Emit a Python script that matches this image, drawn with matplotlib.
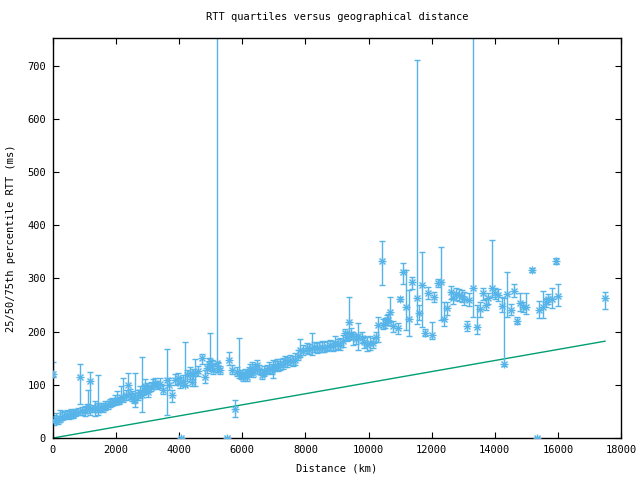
import numpy as np
import matplotlib
matplotlib.use("Agg")
import matplotlib.pyplot as plt

# distance (km), median / 25th / 75th percentile RTT (ms)
dist = [0, 30, 80, 150, 220, 290, 360, 430, 500, 570, 640, 710, 780, 846, 920,
        1014, 1080, 1120, 1183, 1250, 1331, 1390, 1436, 1510, 1585, 1650, 1743,
        1800, 1860, 1950, 2018, 2100, 2160, 2229, 2300, 2387, 2440, 2493, 2560,
        2599, 2680, 2760, 2810, 2870, 2916, 2970, 3021, 3100, 3160, 3233, 3300,
        3380, 3476, 3603, 3680, 3760, 3866, 3950, 4025, 4050, 4120, 4183, 4260,
        4341, 4395, 4450, 4500, 4600, 4712, 4817, 4870, 4930, 4975, 5030, 5081,
        5187, 5240, 5293, 5520, 5588, 5662, 5768, 5840, 5905, 5970, 6031, 6090,
        6138, 6200, 6243, 6300, 6348, 6400, 6455, 6530, 6614, 6700, 6772, 6850,
        6931, 6982, 7036, 7100, 7141, 7194, 7280, 7352, 7430, 7511, 7590, 7669,
        7750, 7828, 7933, 8039, 8120, 8198, 8280, 8357, 8440, 8515, 8600, 8674,
        8778, 8860, 8937, 9020, 9095, 9180, 9254, 9320, 9380, 9450, 9517, 9600,
        9675, 9782, 9860, 9940, 10046, 10151, 10230, 10309, 10415, 10468, 10521,
        10574, 10626, 10680, 10785, 10923, 10996, 11102, 11187, 11292, 11367,
        11525, 11608, 11683, 11789, 11894, 11999, 12073, 12210, 12285, 12391,
        12477, 12613, 12686, 12780, 12876, 12952, 13030, 13111, 13195, 13302,
        13428, 13532, 13618, 13723, 13796, 13903, 14020, 14114, 14220, 14293,
        14397, 14504, 14609, 14714, 14800, 14884, 14989, 15188, 15330, 15413,
        15519, 15624, 15698, 15804, 15931, 16014, 17493]
med = [121, 32, 36, 34, 38, 40, 41, 44, 43, 46, 44, 47, 49, 114, 50,
       50, 55, 58, 107, 55, 56, 58, 53, 58, 56, 60, 62,
       66, 68, 70, 72, 70, 78, 75, 80, 100, 83, 78, 74,
       72, 80, 86, 81, 90, 97, 92, 87, 96, 100, 103, 100,
       102, 90, 109, 100, 81, 109, 112, 103, 0, 108, 100, 118,
       122, 106, 120, 122, 126, 150, 115, 131, 140, 144, 135, 128,
       141, 132, 128, 0, 147, 128, 54, 125, 122, 118, 115, 120,
       115, 124, 128, 132, 122, 130, 137, 128, 118, 125, 128, 132,
       128, 131, 134, 138, 134, 137, 140, 144, 142, 147, 145, 147,
       155, 166, 164, 169, 166, 169, 171, 169, 170, 172, 170, 172,
       175, 173, 178, 176, 175, 182, 197, 190, 219, 196, 191, 186,
       191, 188, 180, 175, 178, 178, 190, 213, 332, 213, 216,
       222, 222, 237, 210, 206, 262, 312, 247, 223, 293,
       263, 235, 288, 197, 272, 194, 265, 291, 294, 223,
       244, 275, 263, 270, 269, 267, 262, 210, 260, 282,
       208, 242, 272, 250, 263, 282, 272, 269, 248, 139,
       271, 240, 277, 220, 253, 246, 246, 316, 0, 241,
       246, 255, 261, 261, 333, 267, 263]
p25 = [115, 24, 28, 27, 31, 33, 35, 37, 36, 39, 38, 41, 43, 64, 44,
       42, 47, 50, 44, 48, 41, 48, 43, 50, 49, 52, 55,
       58, 60, 62, 64, 63, 69, 68, 72, 77, 74, 70, 66,
       58, 72, 76, 49, 82, 86, 84, 78, 88, 92, 95, 92,
       94, 82, 43, 90, 68, 100, 102, 94, 0, 98, 97, 108,
       110, 97, 110, 97, 116, 140, 103, 122, 128, 128, 126, 120,
       125, 124, 120, 0, 137, 120, 40, 116, 113, 110, 108, 112,
       108, 116, 118, 122, 114, 122, 128, 120, 110, 116, 120, 122,
       120, 113, 126, 128, 126, 128, 130, 134, 134, 138, 136, 138,
       146, 152, 156, 160, 158, 156, 162, 160, 162, 162, 162, 163,
       166, 164, 165, 168, 166, 172, 184, 182, 184, 186, 175, 176,
       166, 178, 170, 163, 165, 170, 180, 181, 288, 204, 206,
       212, 212, 219, 200, 196, 258, 290, 203, 191, 280,
       215, 222, 209, 192, 262, 186, 256, 284, 222, 211,
       232, 262, 252, 260, 258, 255, 250, 202, 248, 228,
       196, 228, 260, 240, 252, 266, 262, 258, 236, 135,
       228, 232, 266, 214, 238, 236, 234, 312, 0, 226,
       225, 246, 252, 244, 328, 248, 243]
p75 = [143, 44, 47, 42, 52, 48, 50, 52, 51, 55, 52, 55, 57, 139, 58,
       60, 64, 90, 124, 62, 70, 66, 119, 66, 66, 70, 70,
       74, 76, 80, 88, 78, 98, 113, 90, 122, 92, 88, 84,
       122, 90, 98, 152, 100, 110, 104, 100, 106, 110, 112, 108,
       112, 100, 167, 112, 90, 120, 122, 114, 0, 118, 181, 128,
       134, 116, 130, 149, 136, 158, 128, 140, 150, 198, 146, 140,
       1100, 142, 136, 0, 162, 138, 72, 134, 188, 128, 124, 130,
       126, 134, 140, 142, 132, 140, 146, 138, 130, 136, 138, 142,
       140, 147, 144, 148, 144, 148, 150, 154, 152, 156, 155, 160,
       165, 186, 174, 178, 176, 198, 180, 178, 180, 182, 180, 182,
       185, 183, 192, 186, 188, 194, 205, 200, 266, 206, 200, 196,
       216, 200, 192, 190, 192, 188, 200, 228, 371, 224, 226,
       232, 234, 265, 220, 216, 266, 329, 316, 279, 302,
       710, 250, 350, 205, 283, 218, 275, 298, 359, 256,
       256, 286, 274, 282, 280, 278, 274, 220, 272, 900,
       250, 256, 282, 262, 272, 373, 282, 280, 266, 263,
       312, 252, 290, 228, 272, 256, 272, 320, 0, 258,
       276, 264, 270, 282, 338, 290, 274]

# speed-of-light-in-fibre lower bound
bound_km = [0, 17493]
bound_ms = [0, 182]

blue = "#56b4e9"
green = "#009e73"

plt.rcParams["font.family"] = "DejaVu Sans Mono"
plt.rcParams["font.size"] = 7.5

fig = plt.figure(figsize=(6.4, 4.8), dpi=100)
ax = fig.add_axes([53 / 640, 42 / 480, 568 / 640, 400 / 480])

d = np.array(dist)
m = np.array(med)
lo = np.array(p25)
hi = np.array(p75)

ax.errorbar(d, m, yerr=[m - lo, hi - m], fmt="none", ecolor=blue,
            elinewidth=1.0, capsize=2.5, capthick=1.0, zorder=2)
ax.plot(d, m, linestyle="none", marker="+", color=blue, markersize=6,
        markeredgewidth=1.0, zorder=3)
ax.plot(d, m, linestyle="none", marker="x", color=blue, markersize=4.5,
        markeredgewidth=1.0, zorder=3)
ax.plot(bound_km, bound_ms, color=green, linewidth=1.0, zorder=1)

ax.set_xlim(0, 18000)
ax.set_ylim(0, 752)
ax.set_xticks(np.arange(0, 18001, 2000))
ax.set_yticks(np.arange(0, 701, 100))
ax.tick_params(direction="in", length=4.5, width=0.8, top=True, right=True,
               labelsize=7.5, pad=5)
for s in ax.spines.values():
    s.set_linewidth(1.0)

ax.set_title("RTT quartiles versus geographical distance", fontsize=7.5, pad=13)
ax.set_xlabel("Distance (km)", fontsize=7.5, labelpad=6)
ax.set_ylabel("25/50/75th percentile RTT (ms)", fontsize=7.5, labelpad=8)

fig.savefig("out.png", dpi=100)
